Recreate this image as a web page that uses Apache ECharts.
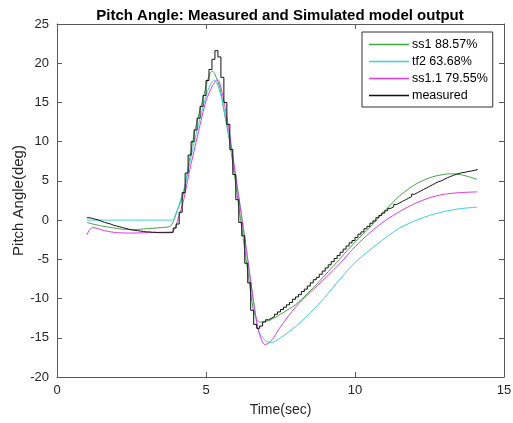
<!DOCTYPE html>
<html>
<head>
<meta charset="utf-8">
<script src="https://cdn.jsdelivr.net/npm/echarts@6/dist/echarts.min.js"></script>
<style>
html,body{margin:0;padding:0;background:#fff;}
#chart{width:513px;height:423px;}
</style>
</head>
<body>
<div id="chart"></div>
<script>
// ---- data ----
var xTicks = [0, 5, 10, 15];
var yTicks = [-20, -15, -10, -5, 0, 5, 10, 15, 20, 25];
var legendNames = ['ss1 88.57%', 'tf2 63.68%', 'ss1.1 79.55%', 'measured'];

var ss1Time  = [1.0,1.2,1.5,2.0,2.3,2.6,3.0,3.5,3.8,3.9,4.0,4.24,4.46,4.63,4.9,5.05,5.15,5.22,5.3,5.47,5.6,5.8,6.0,6.2,6.4,6.59,6.7,6.8,7.0,7.15,7.5,8.0,8.5,9.0,9.5,10.0,10.5,11.0,11.5,12.0,12.5,13.0,13.3,13.6,14.1];
var ss1Value = [-0.3,-0.5,-0.75,-1.05,-1.2,-1.2,-1.1,-0.95,-0.8,-0.2,0.9,3.3,8.0,11.5,15.5,17.8,18.8,19.0,18.6,16.8,14.0,9.8,4.5,-1.0,-6.5,-11.5,-12.6,-13.0,-12.9,-12.75,-12.0,-10.8,-9.0,-7.0,-4.9,-2.8,-0.9,1.2,3.1,4.5,5.4,5.85,5.9,5.75,5.2];

var tf2Time  = [1.0,2.0,3.0,3.5,3.85,3.95,4.1,4.3,4.46,4.7,4.9,5.05,5.15,5.25,5.35,5.5,5.6,5.8,6.0,6.2,6.4,6.6,6.75,6.9,7.05,7.2,7.5,8.0,8.5,9.0,9.5,10.0,10.5,11.0,11.5,12.0,12.5,13.0,13.5,14.1];
var tf2Value = [0,0,0,0,0,0.3,2.0,4.5,7.4,11.4,14.4,16.4,17.3,17.8,17.6,15.9,14.2,10.3,5.5,0.5,-5.0,-10.5,-14.0,-15.0,-15.5,-15.6,-15.0,-13.6,-11.8,-9.8,-7.5,-5.4,-3.8,-2.3,-1.0,-0.1,0.6,1.1,1.45,1.65];

var ss11Time  = [1.0,1.1,1.2,1.35,1.6,2.0,2.5,3.0,3.5,3.85,3.96,4.1,4.24,4.46,4.6,4.75,5.0,5.2,5.3,5.37,5.45,5.6,5.8,6.0,6.2,6.4,6.6,6.75,6.9,6.98,7.1,7.25,7.5,8.0,8.5,9.0,9.5,10.0,10.5,11.0,11.5,12.0,12.5,13.0,13.5,14.1];
var ss11Value = [-1.9,-1.2,-0.95,-1.05,-1.35,-1.6,-1.65,-1.6,-1.55,-1.5,-1.0,0.6,2.4,6.5,8.8,11.3,15.2,17.0,17.6,17.9,17.6,15.2,10.8,5.5,0.3,-5.0,-10.5,-13.9,-15.6,-15.85,-15.7,-15.1,-13.6,-11.1,-9.2,-7.4,-5.5,-3.4,-1.6,-0.1,1.1,2.1,2.85,3.3,3.5,3.6];

// measured: sampled every 0.1 s starting at t = 1.0 s (held between samples)
var measuredStart = 1.0;
var measuredStep = 0.1;
var measuredValue = [
 0.3,0.2,0.1,0.0,-0.15,-0.3,-0.4,-0.5,-0.65,-0.75,
 -0.85,-0.95,-1.05,-1.15,-1.25,-1.3,-1.35,-1.4,-1.45,-1.5,
 -1.5,-1.55,-1.55,-1.6,-1.6,-1.6,-1.6,-1.6,-1.55,-1.0,
 -0.5,1.0,3.5,6.0,8.3,10.0,11.5,13.0,14.5,15.9,
 17.8,19.2,20.5,21.6,20.8,18.2,15.0,12.2,9.0,5.8,
 2.6,-0.3,-2.0,-5.5,-8.0,-11.5,-13.3,-13.8,-13.5,-13.0,
 -12.7,-12.5,-12.3,-12.0,-11.7,-11.4,-11.1,-10.8,-10.5,-10.1,
 -9.8,-9.5,-9.1,-8.8,-8.4,-8.0,-7.6,-7.3,-6.9,-6.5,
 -6.1,-5.7,-5.3,-4.9,-4.5,-4.1,-3.7,-3.3,-2.9,-2.6,
 -2.2,-1.8,-1.5,-1.1,-0.8,-0.4,-0.1,0.3,0.6,0.9,
 1.2,1.5,1.7,2.0,2.2,2.4,2.6,2.8,3.0,3.3,
 3.5,3.7,3.9,4.1,4.3,4.5,4.7,4.9,5.0,5.2,
 5.4,5.55,5.7,5.85,5.95,6.05,6.1,6.2,6.25,6.35,
 6.4,6.5
];

// ---- build ----
function pairs(t, v){ var out=[]; for(var i=0;i<t.length;i++){ out.push([t[i], v[i]]); } return out; }
var measuredData = [];
for (var i=0;i<measuredValue.length;i++){ measuredData.push([+(measuredStart + i*measuredStep).toFixed(2), measuredValue[i]]); }

var axisColor = '#5a5a5a';
var textColor = '#262626';
var FONT = 'Liberation Sans, Arial, Helvetica, sans-serif';

var chart = echarts.init(document.getElementById('chart'), null, {renderer:'canvas'});
var baseX = {
  type:'value', min:xTicks[0], max:xTicks[xTicks.length-1], interval:5,
  splitLine:{show:false},
  axisLine:{show:true, onZero:false, lineStyle:{color:axisColor, width:1}},
  axisTick:{show:true, inside:true, length:5, lineStyle:{color:axisColor}}
};
var baseY = {
  type:'value', min:yTicks[0], max:yTicks[yTicks.length-1], interval:5,
  splitLine:{show:false},
  axisLine:{show:true, onZero:false, lineStyle:{color:axisColor, width:1}},
  axisTick:{show:true, inside:true, length:5, lineStyle:{color:axisColor}}
};
var option = {
  animation:false,
  backgroundColor:'#fff',
  title:{
    text:'Pitch Angle: Measured and Simulated model output',
    left:275, top:3, textAlign:'center',
    textStyle:{fontFamily:FONT, fontSize:15, fontWeight:'bold', color:'#000'}
  },
  grid:{left:57, right:9, top:24, bottom:46, containLabel:false, outerBoundsMode:'none'},
  legend:{
    orient:'vertical', left:362, top:32,
    padding:[6,5,5,7], itemGap:4,
    itemWidth:40, itemHeight:1.5,
    backgroundColor:'#fff', borderColor:'#333', borderWidth:1,
    icon:'rect',
    textStyle:{fontFamily:FONT, fontSize:12.5, color:'#000', padding:[0,0,0,-2]},
    data:legendNames
  },
  xAxis:[
    Object.assign({}, baseX, {
      position:'bottom',
      name:'Time(sec)', nameLocation:'middle', nameGap:26,
      nameTextStyle:{fontFamily:FONT, fontSize:14, color:textColor},
      axisLabel:{fontFamily:FONT, fontSize:13, color:textColor, margin:7}
    }),
    Object.assign({}, baseX, {position:'top', axisLabel:{show:false}})
  ],
  yAxis:[
    Object.assign({}, baseY, {
      position:'left',
      name:'Pitch Angle(deg)', nameLocation:'middle', nameGap:31, nameMoveOverlap:false,
      nameTextStyle:{fontFamily:FONT, fontSize:15, color:textColor},
      axisLabel:{fontFamily:FONT, fontSize:13, color:textColor, margin:8}
    }),
    Object.assign({}, baseY, {position:'right', axisLabel:{show:false}})
  ],
  series:[
    {name:legendNames[0], type:'line', data:pairs(ss1Time, ss1Value), showSymbol:false, smooth:0.25,
     color:'#3fa83f', lineStyle:{width:1, color:'#3fa83f'}},
    {name:legendNames[1], type:'line', data:pairs(tf2Time, tf2Value), showSymbol:false, smooth:0.25,
     color:'#3fd0d8', lineStyle:{width:1, color:'#3fd0d8'}},
    {name:legendNames[2], type:'line', data:pairs(ss11Time, ss11Value), showSymbol:false, smooth:0.25,
     color:'#e03ae0', lineStyle:{width:1, color:'#e03ae0'}},
    {name:legendNames[3], type:'line', data:measuredData, showSymbol:false, step:'end',
     color:'#111', lineStyle:{width:1, color:'#111'}}
  ]
};
chart.setOption(option);
</script>
</body>
</html>
